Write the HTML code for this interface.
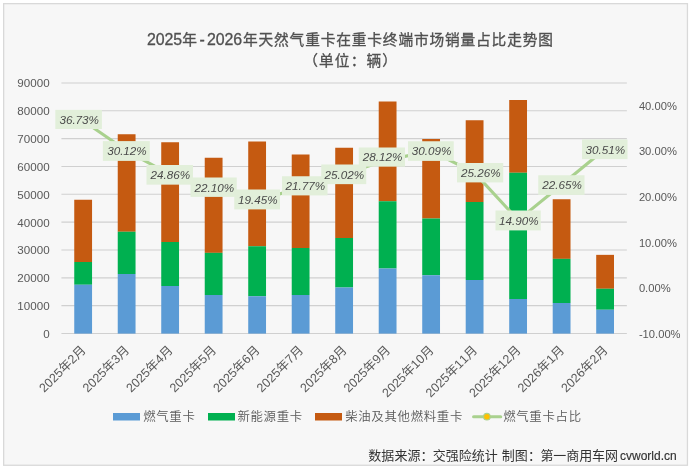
<!DOCTYPE html>
<html lang="zh-CN">
<head>
<meta charset="utf-8">
<title>2025年-2026年天然气重卡在重卡终端市场销量占比走势图</title>
<style>
html,body{margin:0;padding:0;background:#fff;}
body{width:689px;height:467px;overflow:hidden;position:relative;font-family:"Liberation Sans","Noto Sans CJK SC",sans-serif;}
svg{position:absolute;left:0;top:0;display:block;}
text{font-family:"Liberation Sans","Noto Sans CJK SC",sans-serif;}
.ax{font-size:11.6px;fill:#595959;}
.cx{font-size:12.5px;fill:#595959;font-kerning:none;}
.dl{font-size:11.7px;font-style:italic;fill:#4a4a4a;text-anchor:middle;}
.lg{font-size:12.4px;fill:#595959;letter-spacing:0.7px;font-weight:350;}
.tt{font-size:14.7px;fill:#505050;font-weight:400;stroke:#505050;stroke-width:0.32px;}
.dg{font-size:15.9px;letter-spacing:-0.12px;stroke-width:0.3px;}
.ft{font-size:13px;fill:#333;letter-spacing:0.07px;font-weight:400;}
.en{font-size:12px;letter-spacing:0;font-weight:400;stroke:#333;stroke-width:0.15px;}
</style>
</head>
<body>
<svg width="689" height="467" viewBox="0 0 689 467">
<rect x="0" y="0" width="689" height="467" fill="#ffffff"/>
<rect x="3.65" y="3.65" width="683.8" height="461.6" fill="#f7f7f7" stroke="#d9d9d9" stroke-width="1.3"/>

<g stroke="#d0d0d0" stroke-width="1.1">
<line x1="61.4" y1="333.50" x2="626.85" y2="333.50"/>
<line x1="61.4" y1="305.67" x2="626.85" y2="305.67"/>
<line x1="61.4" y1="277.83" x2="626.85" y2="277.83"/>
<line x1="61.4" y1="250.00" x2="626.85" y2="250.00"/>
<line x1="61.4" y1="222.16" x2="626.85" y2="222.16"/>
<line x1="61.4" y1="194.32" x2="626.85" y2="194.32"/>
<line x1="61.4" y1="166.49" x2="626.85" y2="166.49"/>
<line x1="61.4" y1="138.66" x2="626.85" y2="138.66"/>
<line x1="61.4" y1="110.82" x2="626.85" y2="110.82"/>
<line x1="61.4" y1="82.98" x2="626.85" y2="82.98"/>
</g>
<g class="ax" text-anchor="end">
<text x="49.6" y="337.90">0</text>
<text x="49.6" y="310.06">10000</text>
<text x="49.6" y="282.23">20000</text>
<text x="49.6" y="254.40">30000</text>
<text x="49.6" y="226.56">40000</text>
<text x="49.6" y="198.72">50000</text>
<text x="49.6" y="170.89">60000</text>
<text x="49.6" y="143.06">70000</text>
<text x="49.6" y="115.22">80000</text>
<text x="49.6" y="87.38">90000</text>
</g>
<g class="ax" text-anchor="start">
<text x="638.9" y="337.60" style="font-size:11.2px">-10.00%</text>
<text x="638.9" y="292.05" style="font-size:11.2px">0.00%</text>
<text x="638.9" y="246.51" style="font-size:11.2px">10.00%</text>
<text x="638.9" y="200.96" style="font-size:11.2px">20.00%</text>
<text x="638.9" y="155.42" style="font-size:11.2px">30.00%</text>
<text x="638.9" y="109.87" style="font-size:11.2px">40.00%</text>
</g>
<rect x="74.25" y="199.75" width="17.8" height="62.25" fill="#c55a11"/>
<rect x="74.25" y="262.00" width="17.8" height="22.75" fill="#00b050"/>
<rect x="74.25" y="284.75" width="17.8" height="48.85" fill="#5b9bd5"/>
<rect x="117.74" y="134.25" width="17.8" height="97.50" fill="#c55a11"/>
<rect x="117.74" y="231.75" width="17.8" height="42.25" fill="#00b050"/>
<rect x="117.74" y="274.00" width="17.8" height="59.60" fill="#5b9bd5"/>
<rect x="161.24" y="142.25" width="17.8" height="99.75" fill="#c55a11"/>
<rect x="161.24" y="242.00" width="17.8" height="44.00" fill="#00b050"/>
<rect x="161.24" y="286.00" width="17.8" height="47.60" fill="#5b9bd5"/>
<rect x="204.74" y="157.75" width="17.8" height="95.10" fill="#c55a11"/>
<rect x="204.74" y="252.85" width="17.8" height="42.15" fill="#00b050"/>
<rect x="204.74" y="295.00" width="17.8" height="38.60" fill="#5b9bd5"/>
<rect x="248.23" y="141.50" width="17.8" height="104.75" fill="#c55a11"/>
<rect x="248.23" y="246.25" width="17.8" height="50.00" fill="#00b050"/>
<rect x="248.23" y="296.25" width="17.8" height="37.35" fill="#5b9bd5"/>
<rect x="291.73" y="154.50" width="17.8" height="93.50" fill="#c55a11"/>
<rect x="291.73" y="248.00" width="17.8" height="47.00" fill="#00b050"/>
<rect x="291.73" y="295.00" width="17.8" height="38.60" fill="#5b9bd5"/>
<rect x="335.23" y="147.75" width="17.8" height="90.25" fill="#c55a11"/>
<rect x="335.23" y="238.00" width="17.8" height="49.50" fill="#00b050"/>
<rect x="335.23" y="287.50" width="17.8" height="46.10" fill="#5b9bd5"/>
<rect x="378.72" y="101.50" width="17.8" height="99.75" fill="#c55a11"/>
<rect x="378.72" y="201.25" width="17.8" height="67.25" fill="#00b050"/>
<rect x="378.72" y="268.50" width="17.8" height="65.10" fill="#5b9bd5"/>
<rect x="422.22" y="139.00" width="17.8" height="79.50" fill="#c55a11"/>
<rect x="422.22" y="218.50" width="17.8" height="56.75" fill="#00b050"/>
<rect x="422.22" y="275.25" width="17.8" height="58.35" fill="#5b9bd5"/>
<rect x="465.71" y="120.25" width="17.8" height="81.75" fill="#c55a11"/>
<rect x="465.71" y="202.00" width="17.8" height="78.00" fill="#00b050"/>
<rect x="465.71" y="280.00" width="17.8" height="53.60" fill="#5b9bd5"/>
<rect x="509.21" y="100.00" width="17.8" height="72.75" fill="#c55a11"/>
<rect x="509.21" y="172.75" width="17.8" height="126.25" fill="#00b050"/>
<rect x="509.21" y="299.00" width="17.8" height="34.60" fill="#5b9bd5"/>
<rect x="552.71" y="199.25" width="17.8" height="59.60" fill="#c55a11"/>
<rect x="552.71" y="258.85" width="17.8" height="44.15" fill="#00b050"/>
<rect x="552.71" y="303.00" width="17.8" height="30.60" fill="#5b9bd5"/>
<rect x="596.20" y="254.85" width="17.8" height="33.90" fill="#c55a11"/>
<rect x="596.20" y="288.75" width="17.8" height="21.00" fill="#00b050"/>
<rect x="596.20" y="309.75" width="17.8" height="23.85" fill="#5b9bd5"/>
<polyline points="83.15,120.67 126.64,150.77 170.14,174.73 213.64,187.30 257.13,199.37 300.63,188.80 344.12,174.00 387.62,159.88 431.12,150.91 474.61,172.91 518.11,220.09 561.61,184.79 605.10,149.00" fill="none" stroke="#a9d18e" stroke-width="3.1" stroke-linejoin="round" stroke-linecap="round"/>
<rect x="55.3" y="109.9" width="46.60" height="19.10" fill="#e2efda"/>
<rect x="102.9" y="141.1" width="46.90" height="19.80" fill="#e2efda"/>
<rect x="146.5" y="165" width="46.50" height="19.65" fill="#e2efda"/>
<rect x="190.5" y="177.5" width="46.25" height="19.40" fill="#e2efda"/>
<rect x="234.25" y="189.5" width="45.75" height="19.90" fill="#e2efda"/>
<rect x="282" y="176.25" width="45.50" height="19.15" fill="#e2efda"/>
<rect x="321.25" y="164.5" width="45.00" height="19.65" fill="#e2efda"/>
<rect x="358.75" y="147.5" width="46.25" height="19.15" fill="#e2efda"/>
<rect x="408" y="141.25" width="45.75" height="19.65" fill="#e2efda"/>
<rect x="457" y="163" width="46.25" height="19.40" fill="#e2efda"/>
<rect x="495.5" y="210.5" width="45.25" height="19.90" fill="#e2efda"/>
<rect x="538.25" y="175.25" width="46.25" height="19.65" fill="#e2efda"/>
<rect x="582" y="139.5" width="45.50" height="19.65" fill="#e2efda"/>
<text class="dl" x="79.20" y="123.85">36.73%</text>
<text class="dl" x="126.95" y="155.40">30.12%</text>
<text class="dl" x="170.35" y="179.22">24.86%</text>
<text class="dl" x="214.22" y="191.60">22.10%</text>
<text class="dl" x="257.73" y="203.85">19.45%</text>
<text class="dl" x="305.35" y="190.22">21.77%</text>
<text class="dl" x="344.35" y="178.72">25.02%</text>
<text class="dl" x="382.48" y="161.47">28.12%</text>
<text class="dl" x="431.48" y="155.47">30.09%</text>
<text class="dl" x="480.73" y="177.10">25.26%</text>
<text class="dl" x="518.73" y="224.85">14.90%</text>
<text class="dl" x="561.98" y="189.47">22.65%</text>
<text class="dl" x="605.35" y="153.72">30.51%</text>
<g class="cx" text-anchor="end">
<text transform="translate(83.75,348.00) rotate(-45)" x="0" y="4">2025年2月</text>
<text transform="translate(127.24,348.00) rotate(-45)" x="0" y="4">2025年3月</text>
<text transform="translate(170.74,348.00) rotate(-45)" x="0" y="4">2025年4月</text>
<text transform="translate(214.24,348.00) rotate(-45)" x="0" y="4">2025年5月</text>
<text transform="translate(257.73,348.00) rotate(-45)" x="0" y="4">2025年6月</text>
<text transform="translate(301.23,348.00) rotate(-45)" x="0" y="4">2025年7月</text>
<text transform="translate(344.73,348.00) rotate(-45)" x="0" y="4">2025年8月</text>
<text transform="translate(388.22,348.00) rotate(-45)" x="0" y="4">2025年9月</text>
<text transform="translate(431.72,348.00) rotate(-45)" x="0" y="4">2025年10月</text>
<text transform="translate(475.21,348.00) rotate(-45)" x="0" y="4">2025年11月</text>
<text transform="translate(518.71,348.00) rotate(-45)" x="0" y="4">2025年12月</text>
<text transform="translate(562.21,348.00) rotate(-45)" x="0" y="4">2026年1月</text>
<text transform="translate(605.70,348.00) rotate(-45)" x="0" y="4">2026年2月</text>
</g>
<text class="tt" y="45.2"><tspan class="dg" x="147">2025</tspan><tspan x="182.2">年</tspan><tspan class="dg" x="199.4">-</tspan><tspan class="dg" x="207">2026</tspan><tspan x="243" letter-spacing="0.85">年天然气重卡在重卡终端市场销量占比走势图</tspan></text>
<text class="tt" x="303.3" y="65.7" letter-spacing="1.1">（单位：辆）</text>
<rect x="113" y="413" width="27" height="7.5" fill="#5b9bd5"/>
<text class="lg" x="143.2" y="421.3">燃气重卡</text>
<rect x="208" y="413" width="27" height="7.5" fill="#00b050"/>
<text class="lg" x="237.4" y="421.3" letter-spacing="0.6">新能源重卡</text>
<rect x="315" y="413" width="27" height="7.5" fill="#c55a11"/>
<text class="lg" x="345.2" y="421.3" letter-spacing="0.6">柴油及其他燃料重卡</text>
<line x1="473.6" y1="416.7" x2="500.7" y2="416.7" stroke="#a9d18e" stroke-width="3.1" stroke-linecap="round"/>
<circle cx="486.9" cy="416.7" r="3.3" fill="#ffc000" stroke="#a9d18e" stroke-width="1.1"/>
<text class="lg" x="503.2" y="421.3">燃气重卡占比</text>
<text class="ft" y="460.4"><tspan x="368.3">数据来源：</tspan><tspan x="432.8" letter-spacing="-0.03">交强险统计</tspan><tspan x="501.8">制图：</tspan><tspan x="540.4" letter-spacing="-0.08">第一商用车网</tspan><tspan class="en" x="620">cvworld.cn</tspan></text>
</svg>
</body>
</html>
